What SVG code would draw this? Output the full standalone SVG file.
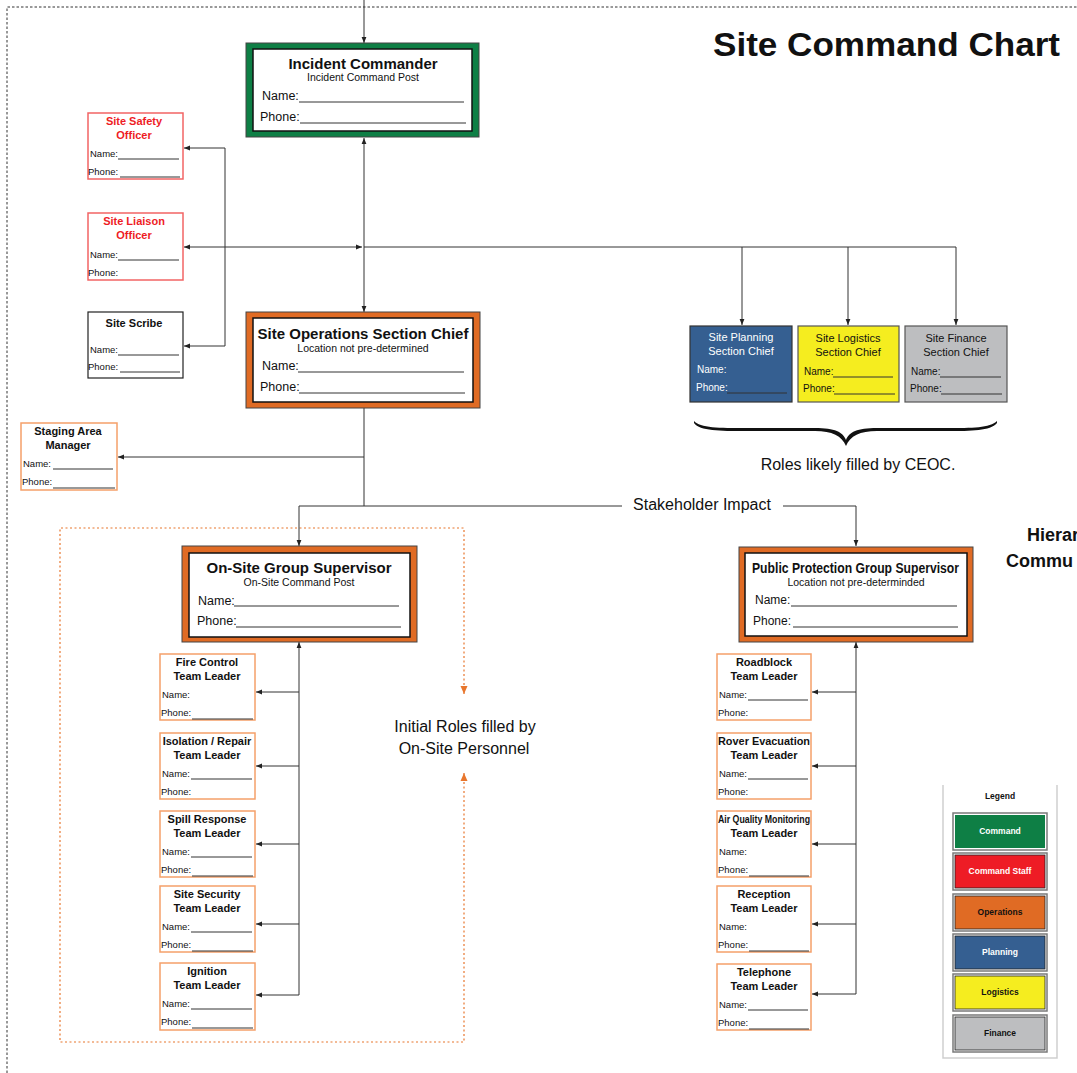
<svg xmlns="http://www.w3.org/2000/svg" width="1077" height="1073" viewBox="0 0 1077 1073">
<defs>
<style>
text{font-family:"Liberation Sans",Arial,sans-serif;fill:#111}
.b{font-weight:bold}
.t15{font-size:15px;font-weight:bold;text-anchor:middle}
.sub{font-size:10.5px;text-anchor:middle}
.lbl{font-size:12.5px}
.st{font-size:11px;font-weight:bold;text-anchor:middle}
.sl{font-size:9.5px}
.ct{font-size:11px;text-anchor:middle}
.cl{font-size:10px}
.ul{stroke:#333;stroke-width:1;fill:none}
.box{fill:#fff;stroke:#f5a06a;stroke-width:1.5}
.red{fill:#fff;stroke:#f26464;stroke-width:1.5}
.blk{fill:#fff;stroke:#222;stroke-width:1.2}
.inner{fill:#fff;stroke:#111;stroke-width:1.5}
.con{fill:none;stroke:#333;stroke-width:1}
.big{font-size:16px}
.lg{font-size:8.5px;font-weight:bold;text-anchor:middle}
.sw{fill:#fff;stroke:#7a7a7a;stroke-width:1.5}
</style>
<marker id="ar" viewBox="0 0 6 6" refX="6" refY="3" markerWidth="6" markerHeight="6" markerUnits="userSpaceOnUse" orient="auto-start-reverse"><path d="M0,0.6 L6,3 L0,5.4 z" fill="#222"/></marker>
<marker id="ao" viewBox="0 0 8 8" refX="8" refY="4" markerWidth="8" markerHeight="8" markerUnits="userSpaceOnUse" orient="auto-start-reverse"><path d="M0,0.5 L8,4 L0,7.5 z" fill="#e8762d"/></marker>
</defs>
<rect width="1077" height="1073" fill="#fff"/>

<!-- outer dotted frame -->
<path d="M7,1073 V7 H1077" fill="none" stroke="#333" stroke-width="1" stroke-dasharray="2.5 2"/>

<!-- title -->
<text x="713" y="56" font-size="34" class="b" textLength="347" lengthAdjust="spacingAndGlyphs">Site Command Chart</text>
<text x="1027" y="541" font-size="18" class="b">Hierar</text>
<text x="1006" y="567" font-size="18" class="b">Commu</text>

<!-- On-site dashed region -->
<path d="M464,773 V1042 H60 V528 H464 V694" fill="none" stroke="#e8762d" stroke-width="1.2" stroke-dasharray="2 2.5" marker-start="url(#ao)" marker-end="url(#ao)"/>
<text x="465" y="732" class="big" text-anchor="middle">Initial Roles filled by</text>
<text x="464" y="754" class="big" text-anchor="middle">On-Site Personnel</text>

<!-- brace -->
<path d="M694,421 C700,428 720,428 745,428 L815,428 C835,428 843,432 846,440 C849,432 857,428 877,428 L947,428 C972,428 990,428 997,421 L997,423 C990,431 972,431 947,431 L877,431 C860,431 850,436 846,446 C842,436 832,431 815,431 L745,431 C720,431 700,431 694,423 Z" fill="#111"/>
<text x="858" y="470" class="big" text-anchor="middle">Roles likely filled by CEOC.</text>

<!-- connectors -->
<g id="connectors">
<path class="con" d="M364,0 V43" stroke="#888" marker-end="url(#ar)"/>
<path class="con" d="M364,138 V312" marker-start="url(#ar)" marker-end="url(#ar)"/>
<path class="con" d="M184,148 H225 V346 H184" marker-start="url(#ar)" marker-end="url(#ar)"/>
<path class="con" d="M184,247 H362" marker-start="url(#ar)" marker-end="url(#ar)"/>
<path class="con" d="M364,247 H956 V325" marker-end="url(#ar)"/>
<path class="con" d="M742,247 V325" stroke="#888" marker-end="url(#ar)"/>
<path class="con" d="M848,247 V325" marker-end="url(#ar)"/>
<path class="con" d="M364,408 V506"/>
<path class="con" d="M364,457 H118" marker-end="url(#ar)"/>
<path class="con" d="M364,506 H622"/>
<path class="con" d="M364,506 H299 V546" marker-end="url(#ar)"/>
<path class="con" d="M783,506 H856 V546" marker-end="url(#ar)"/>
<text x="702" y="510" class="big" text-anchor="middle">Stakeholder Impact</text>
<path class="con" d="M299,995 V642" marker-end="url(#ar)"/>
<path class="con" d="M299,692 H256" marker-end="url(#ar)"/>
<path class="con" d="M299,766 H256" marker-end="url(#ar)"/>
<path class="con" d="M299,844 H256" marker-end="url(#ar)"/>
<path class="con" d="M299,924 H256" marker-end="url(#ar)"/>
<path class="con" d="M299,995 H256" marker-end="url(#ar)"/>
<path class="con" d="M856,994 V642" marker-end="url(#ar)"/>
<path class="con" d="M856,692 H812" marker-end="url(#ar)"/>
<path class="con" d="M856,766 H812" marker-end="url(#ar)"/>
<path class="con" d="M856,844 H812" marker-end="url(#ar)"/>
<path class="con" d="M856,924 H812" marker-end="url(#ar)"/>
<path class="con" d="M856,994 H812" marker-end="url(#ar)"/>
</g>

<!-- Incident Commander -->
<g id="incident-commander">
<rect x="246" y="43" width="233" height="94" fill="#0e7f45" stroke="#444" stroke-width="1"/>
<rect x="253" y="49" width="219" height="82" class="inner"/>
<text x="363" y="69" class="t15">Incident Commander</text>
<text x="363" y="81" class="sub">Incident Command Post</text>
<text x="262" y="100" class="lbl">Name:</text><path class="ul" d="M299,102 H464"/>
<text x="260" y="121" class="lbl">Phone:</text><path class="ul" d="M300,123 H466"/>
</g>

<!-- Site Safety Officer -->
<g id="site-safety-officer">
<rect x="88" y="113" width="95" height="66" class="red"/>
<text x="134" y="125" class="st" style="fill:#ee1c25">Site Safety</text>
<text x="134" y="139" class="st" style="fill:#ee1c25">Officer</text>
<text x="90" y="157" class="sl">Name:</text><path class="ul" d="M118,159 H179"/>
<text x="88" y="175" class="sl">Phone:</text><path class="ul" d="M120,177 H180"/>
</g>

<!-- Site Liaison Officer -->
<g id="site-liaison-officer">
<rect x="88" y="213" width="95" height="67" class="red"/>
<text x="134" y="225" class="st" style="fill:#ee1c25">Site Liaison</text>
<text x="134" y="239" class="st" style="fill:#ee1c25">Officer</text>
<text x="90" y="258" class="sl">Name:</text><path class="ul" d="M118,260 H179" stroke="#777"/>
<text x="88" y="276" class="sl">Phone:</text>
</g>

<!-- Site Scribe -->
<g id="site-scribe">
<rect x="88" y="312" width="95" height="66" class="blk"/>
<text x="134" y="327" class="st">Site Scribe</text>
<text x="90" y="353" class="sl">Name:</text><path class="ul" d="M118,355 H179"/>
<text x="88" y="370" class="sl">Phone:</text><path class="ul" d="M120,372 H180"/>
</g>

<!-- Site Operations Section Chief -->
<g id="site-operations-section-chief">
<rect x="246" y="312" width="234" height="96" fill="#e06b24" stroke="#444" stroke-width="1"/>
<rect x="253" y="318" width="220" height="84" class="inner"/>
<text x="363" y="339" class="t15">Site Operations Section Chief</text>
<text x="363" y="352" class="sub">Location not pre-determined</text>
<text x="262" y="370" class="lbl">Name:</text><path class="ul" d="M298,372 H464"/>
<text x="260" y="391" class="lbl">Phone:</text><path class="ul" d="M299,393 H465"/>
</g>

<!-- Section chiefs -->
<g id="site-planning-section-chief">
<rect x="690" y="326" width="102" height="76" fill="#355f91" stroke="#333" stroke-width="1.2"/>
<text x="741" y="341" class="ct" style="fill:#fff">Site Planning</text>
<text x="741" y="355" class="ct" style="fill:#fff">Section Chief</text>
<text x="697" y="373" class="cl" style="fill:#fff">Name:</text>
<text x="696" y="391" class="cl" style="fill:#fff">Phone:</text><path class="ul" d="M727,393 H787" stroke="#fff"/>
</g>
<g id="site-logistics-section-chief">
<rect x="798" y="326" width="101" height="76" fill="#f5ed1f" stroke="#555" stroke-width="1.2"/>
<text x="848" y="342" class="ct">Site Logistics</text>
<text x="848" y="356" class="ct">Section Chief</text>
<text x="804" y="375" class="cl">Name:</text><path class="ul" d="M833,377 H893"/>
<text x="803" y="392" class="cl">Phone:</text><path class="ul" d="M834,394 H895"/>
</g>
<g id="site-finance-section-chief">
<rect x="905" y="326" width="102" height="76" fill="#bdbec0" stroke="#555" stroke-width="1.2"/>
<text x="956" y="342" class="ct">Site Finance</text>
<text x="956" y="356" class="ct">Section Chief</text>
<text x="911" y="375" class="cl">Name:</text><path class="ul" d="M940,377 H1001"/>
<text x="910" y="392" class="cl">Phone:</text><path class="ul" d="M941,394 H1002"/>
</g>

<!-- Staging Area Manager -->
<g id="staging-area-manager">
<rect x="21" y="423" width="96" height="67" class="box"/>
<text x="68" y="435" class="st">Staging Area</text>
<text x="68" y="449" class="st">Manager</text>
<text x="23" y="467" class="sl">Name:</text><path class="ul" d="M53,469 H113"/>
<text x="22" y="485" class="sl">Phone:</text><path class="ul" d="M53,488 H115"/>
</g>

<!-- On-Site Group Supervisor -->
<g id="on-site-group-supervisor">
<rect x="182" y="546" width="235" height="96" fill="#e06b24" stroke="#444" stroke-width="1"/>
<rect x="189" y="553" width="221" height="84" class="inner"/>
<text x="299" y="573" class="t15">On-Site Group Supervisor</text>
<text x="299" y="586" class="sub">On-Site Command Post</text>
<text x="198" y="605" class="lbl">Name:</text><path class="ul" d="M234,606 H399"/>
<text x="197" y="625" class="lbl">Phone:</text><path class="ul" d="M236,627 H401"/>
</g>

<!-- Public Protection Group Supervisor -->
<g id="public-protection-group-supervisor">
<rect x="739" y="547" width="234" height="95" fill="#e06b24" stroke="#444" stroke-width="1"/>
<rect x="745" y="553" width="222" height="83" class="inner"/>
<text x="752" y="573" font-size="14" class="b" textLength="207" lengthAdjust="spacingAndGlyphs">Public Protection Group Supervisor</text>
<text x="856" y="586" class="sub" font-size="10">Location not pre-determinded</text>
<text x="755" y="604" font-size="12">Name:</text><path class="ul" d="M791,606 H957"/>
<text x="753" y="625" font-size="12">Phone:</text><path class="ul" d="M793,627 H958"/>
</g>

<!-- Left team leaders -->
<g id="fire-control-team-leader">
<rect x="160" y="654" width="95" height="66" class="box"/>
<text x="207" y="666" class="st">Fire Control</text>
<text x="207" y="680" class="st">Team Leader</text>
<text x="162" y="698" class="sl">Name:</text>
<text x="161" y="716" class="sl">Phone:</text><path class="ul" d="M192,719 H253"/>
</g>
<g id="isolation-repair-team-leader">
<rect x="160" y="733" width="95" height="66" class="box"/>
<text x="207" y="745" class="st">Isolation / Repair</text>
<text x="207" y="759" class="st">Team Leader</text>
<text x="162" y="777" class="sl">Name:</text><path class="ul" d="M191,779 H252" stroke="#777"/>
<text x="161" y="795" class="sl">Phone:</text>
</g>
<g id="spill-response-team-leader">
<rect x="160" y="811" width="95" height="66" class="box"/>
<text x="207" y="823" class="st">Spill Response</text>
<text x="207" y="837" class="st">Team Leader</text>
<text x="162" y="855" class="sl">Name:</text><path class="ul" d="M191,857 H252"/>
<text x="161" y="873" class="sl">Phone:</text><path class="ul" d="M192,876 H253"/>
</g>
<g id="site-security-team-leader">
<rect x="160" y="886" width="95" height="66" class="box"/>
<text x="207" y="898" class="st">Site Security</text>
<text x="207" y="912" class="st">Team Leader</text>
<text x="162" y="930" class="sl">Name:</text><path class="ul" d="M191,932 H252"/>
<text x="161" y="948" class="sl">Phone:</text><path class="ul" d="M192,951 H253"/>
</g>
<g id="ignition-team-leader">
<rect x="160" y="963" width="95" height="67" class="box"/>
<text x="207" y="975" class="st">Ignition</text>
<text x="207" y="989" class="st">Team Leader</text>
<text x="162" y="1007" class="sl">Name:</text><path class="ul" d="M191,1009 H252" stroke="#aaa"/>
<text x="161" y="1025" class="sl">Phone:</text><path class="ul" d="M192,1028 H253" stroke="#ddd"/>
</g>

<!-- Right team leaders -->
<g id="roadblock-team-leader">
<rect x="717" y="654" width="94" height="66" class="box"/>
<text x="764" y="666" class="st">Roadblock</text>
<text x="764" y="680" class="st">Team Leader</text>
<text x="719" y="698" class="sl">Name:</text><path class="ul" d="M748,700 H808"/>
<text x="718" y="716" class="sl">Phone:</text>
</g>
<g id="rover-evacuation-team-leader">
<rect x="717" y="733" width="94" height="66" class="box"/>
<text x="764" y="745" class="st" textLength="92" lengthAdjust="spacingAndGlyphs">Rover Evacuation</text>
<text x="764" y="759" class="st">Team Leader</text>
<text x="719" y="777" class="sl">Name:</text><path class="ul" d="M748,779 H808" stroke="#777"/>
<text x="718" y="795" class="sl">Phone:</text>
</g>
<g id="air-quality-monitoring-team-leader">
<rect x="717" y="811" width="94" height="66" class="box"/>
<text x="764" y="823" class="st" textLength="92" lengthAdjust="spacingAndGlyphs">Air Quality Monitoring</text>
<text x="764" y="837" class="st">Team Leader</text>
<text x="719" y="855" class="sl">Name:</text>
<text x="718" y="873" class="sl">Phone:</text><path class="ul" d="M749,876 H809"/>
</g>
<g id="reception-team-leader">
<rect x="717" y="886" width="94" height="66" class="box"/>
<text x="764" y="898" class="st">Reception</text>
<text x="764" y="912" class="st">Team Leader</text>
<text x="719" y="930" class="sl">Name:</text>
<text x="718" y="948" class="sl">Phone:</text><path class="ul" d="M749,951 H809"/>
</g>
<g id="telephone-team-leader">
<rect x="717" y="964" width="94" height="66" class="box"/>
<text x="764" y="976" class="st">Telephone</text>
<text x="764" y="990" class="st">Team Leader</text>
<text x="719" y="1008" class="sl">Name:</text><path class="ul" d="M748,1010 H808"/>
<text x="718" y="1026" class="sl">Phone:</text><path class="ul" d="M749,1029 H809"/>
</g>

<!-- Legend -->
<g id="legend">
<path d="M943,785 V1058 H1057 V785" fill="none" stroke="#cfcfcf" stroke-width="1.5"/>
<text x="1000" y="799" class="lg">Legend</text>
<rect x="953" y="813" width="94" height="37" class="sw"/><rect x="955" y="815" width="90" height="33" fill="#0e7f45"/>
<text x="1000" y="834" class="lg" style="fill:#fff">Command</text>
<rect x="953" y="853" width="94" height="37" class="sw"/><rect x="955" y="855" width="90" height="33" fill="#ee1c25" stroke="#222" stroke-width="0.8"/>
<text x="1000" y="874" class="lg" style="fill:#fff">Command Staff</text>
<rect x="953" y="894" width="94" height="37" class="sw"/><rect x="955" y="896" width="90" height="33" fill="#e06b24" stroke="#222" stroke-width="0.8"/>
<text x="1000" y="915" class="lg">Operations</text>
<rect x="953" y="934" width="94" height="37" class="sw"/><rect x="955" y="936" width="90" height="33" fill="#355f91" stroke="#222" stroke-width="0.8"/>
<text x="1000" y="955" class="lg" style="fill:#fff">Planning</text>
<rect x="953" y="974" width="94" height="37" class="sw"/><rect x="955" y="976" width="90" height="33" fill="#f5ed1f" stroke="#222" stroke-width="0.8"/>
<text x="1000" y="995" class="lg">Logistics</text>
<rect x="953" y="1015" width="94" height="37" class="sw"/><rect x="955" y="1017" width="90" height="33" fill="#bdbec0" stroke="#222" stroke-width="0.8"/>
<text x="1000" y="1036" class="lg">Finance</text>
</g>
</svg>
